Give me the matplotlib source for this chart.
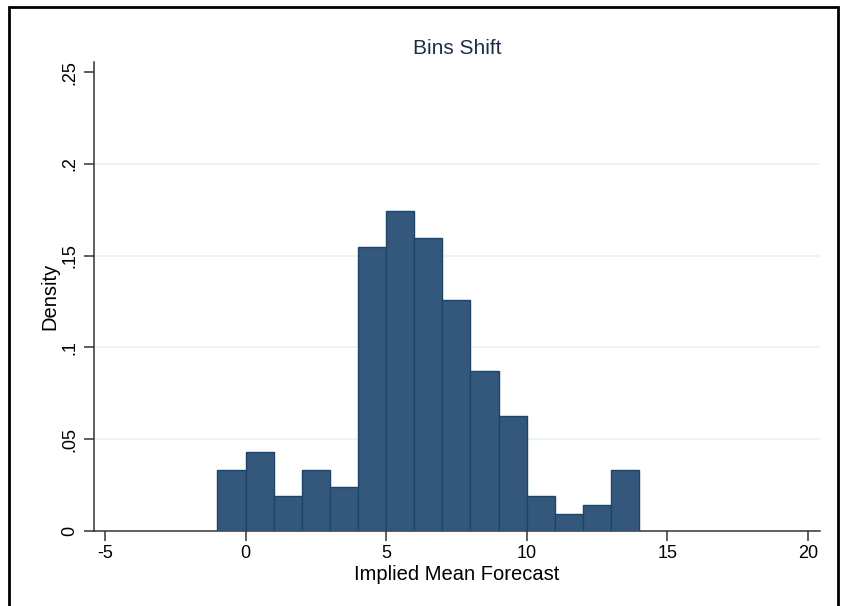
import matplotlib
matplotlib.use("Agg")
import matplotlib.pyplot as plt
from matplotlib.patches import Rectangle

# Histogram bins (left edges, width 1) and densities
BIN_EDGES = [-1, 0, 1, 2, 3, 4, 5, 6, 7, 8, 9, 10, 11, 12, 13, 14]
DENSITY = [0.0334, 0.0432, 0.0188, 0.0334, 0.0237, 0.1548, 0.1745, 0.1597,
           0.1258, 0.0869, 0.0628, 0.0188, 0.0093, 0.0142, 0.0334]

X_TICKS = [-5, 0, 5, 10, 15, 20]
Y_TICKS = [0, 0.05, 0.1, 0.15, 0.2, 0.25]
Y_LABELS = ["0", ".05", ".1", ".15", ".2", ".25"]

plt.rcParams['font.family'] = ['Liberation Sans', 'DejaVu Sans']
plt.rcParams['axes.unicode_minus'] = False

fig = plt.figure(figsize=(8.47, 6.06), dpi=100)
ax = fig.add_axes([94 / 847, 1 - 531 / 606, (820 - 94) / 847, (531 - 62) / 606])

# bars
lefts = BIN_EDGES[:-1]
widths = [b - a for a, b in zip(BIN_EDGES[:-1], BIN_EDGES[1:])]
ax.bar(lefts, DENSITY, width=widths, align='edge', color='#33587c',
       edgecolor='#1d4569', linewidth=1.0, zorder=3)

ax.set_xlim(-5.39, 20.43)
ax.set_ylim(0, 0.2555)

ax.set_xticks(X_TICKS)
ax.set_yticks(Y_TICKS)
ax.set_yticklabels(Y_LABELS, rotation=90, va='center')

# light grid lines (not at top)
for y in Y_TICKS[1:-1]:
    ax.axhline(y, color='#eaf1f4', linewidth=1.2, zorder=1)

for s in ['top', 'right']:
    ax.spines[s].set_visible(False)
for s in ['left', 'bottom']:
    ax.spines[s].set_color('#333333')
    ax.spines[s].set_linewidth(1.1)

ax.tick_params(axis='both', colors='#333333', length=7, width=1.1,
               labelsize=13, labelcolor='black')
ax.tick_params(axis='x', pad=3)
ax.tick_params(axis='y', pad=4)

ax.set_xlabel("Implied Mean Forecast", fontsize=14.5, labelpad=2)
ax.set_ylabel("Density", fontsize=14.5, labelpad=2)
ax.set_title("Bins Shift", fontsize=15, color='#1e2d4a', pad=6)

# outer frame around the graph
fig.patches.append(Rectangle((9 / 847, -0.01), (838 - 9) / 847, 1 - 7 / 606 + 0.01,
                             transform=fig.transFigure, fill=False,
                             edgecolor='black', linewidth=2))

plt.savefig("out.png", dpi=100)
